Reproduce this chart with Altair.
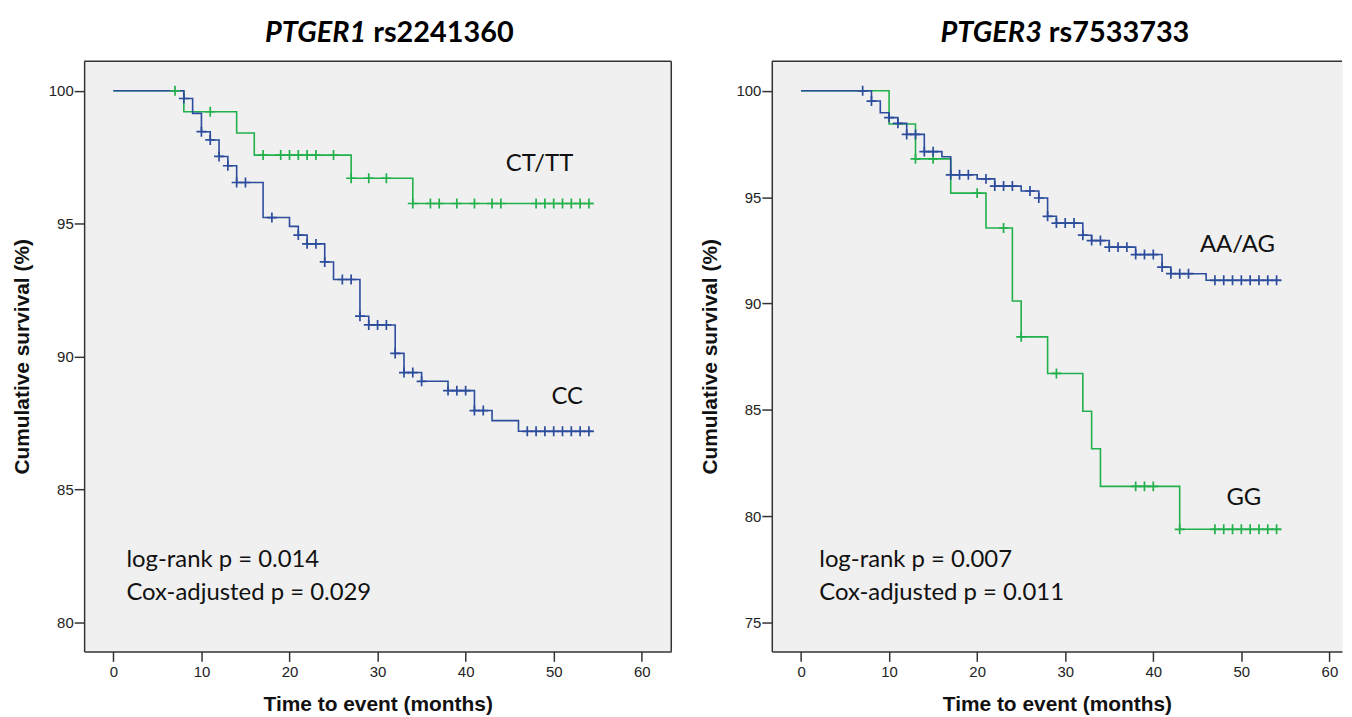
import altair as alt
import pandas as pd

# ---------------- text ----------------
TITLE_A = ["PTGER1", "rs2241360"]
TITLE_B = ["PTGER3", "rs7533733"]
X_LABEL = "Time to event (months)"
Y_LABEL = "Cumulative survival (%)"
X_TICKS = [0, 10, 20, 30, 40, 50, 60]
Y_TICKS_A = [80, 85, 90, 95, 100]
Y_TICKS_B = [75, 80, 85, 90, 95, 100]

# ---------------- panel A: PTGER1 rs2241360 ----------------
A_CT_T = [0, 8, 14, 16, 27, 34, 54.5]
A_CT_S = [100, 99.21, 98.41, 97.58, 96.71, 95.76, 95.76]
A_CT_CENS = [7, 11, 17, 19, 20, 21, 22, 23, 25, 27, 29, 31, 34, 36, 37, 39, 41,
             43, 44, 48, 49, 50, 51, 52, 53, 54]

A_CC_T = [0, 8, 9, 10, 11, 12, 13, 14, 17, 20, 21, 22, 24, 25, 28, 29, 32, 33,
          35, 38, 41, 43, 46, 54.5]
A_CC_S = [100, 99.71, 99.15, 98.46, 98.15, 97.53, 97.18, 96.55, 95.23, 94.90,
          94.57, 94.24, 93.56, 92.90, 91.52, 91.19, 90.12, 89.40, 89.07, 88.72,
          87.97, 87.59, 87.19, 87.19]
A_CC_CENS = [8, 10, 11, 12, 13, 14, 15, 18, 21, 22, 23, 24, 26, 27, 28, 29, 30,
             31, 32, 33, 34, 35, 38, 39, 40, 41, 42, 47, 48, 49, 50, 51, 52, 53, 54]

A_NOTE_TEXT = ["log-rank p = 0.014", "Cox-adjusted p = 0.029", "CT/TT", "CC"]
A_NOTE_T = [1.48, 1.48, 44.55, 49.75]
A_NOTE_S = [82.09, 80.86, 97.00, 88.23]

# ---------------- panel B: PTGER3 rs7533733 ----------------
B_GG_T = [0, 10, 13, 17, 21, 24, 25, 28, 32, 33, 34, 43, 54.5]
B_GG_S = [100, 98.44, 96.80, 95.19, 93.55, 90.12, 88.43, 86.71, 84.93, 83.17,
          81.40, 79.38, 79.38]
B_GG_CENS = [13, 15, 20, 23, 25, 29, 38, 39, 40, 43, 47, 48, 49, 50, 51, 52, 53, 54]

B_AA_T = [0, 8, 9, 10, 11, 12, 14, 16, 17, 20, 22, 25, 27, 28, 29, 32, 33, 35,
          38, 41, 42, 46, 54.5]
B_AA_S = [100, 99.52, 98.97, 98.74, 98.47, 97.95, 97.14, 96.90, 96.05, 95.86,
          95.52, 95.29, 94.96, 94.10, 93.78, 93.21, 92.96, 92.65, 92.30, 91.71,
          91.40, 91.09, 91.09]
B_AA_CENS = [7, 8, 10, 11, 12, 13, 14, 15, 17, 18, 19, 21, 22, 23, 24, 26, 27,
             28, 29, 30, 31, 32, 33, 34, 35, 36, 37, 38, 39, 40, 41, 42, 43, 44,
             47, 48, 49, 50, 51, 52, 53, 54]

B_NOTE_TEXT = ["log-rank p = 0.007", "Cox-adjusted p = 0.011", "AA/AG", "GG"]
B_NOTE_T = [2.07, 2.07, 45.3, 48.3]
B_NOTE_S = [77.62, 76.08, 92.40, 80.51]

# ---------------- styling ----------------
GREEN = "#21b04b"
BLUE = "#2c4c9c"
FRAME = "#333333"
BG = "#f0f0f0"
H = 593
W_A, W_B = 590, 573
XDOM_A = [-3.32, 63.35]
XDOM_B = [-3.32, 61.43]
YDOM_A = [78.91, 101.11]
YDOM_B = [73.64, 101.39]
PLUS = "M-1,0H1M0,-1V1"


def steps_frame(series):
    rows = []
    for g, ts, ss in series:
        for t, s in zip(ts, ss):
            rows.append({"t": t, "s": s, "g": g})
    return pd.DataFrame(rows)


def cens_frame(series):
    rows = []
    for g, ts, ss, cs in series:
        for c in cs:
            val = ss[0]
            for t, s in zip(ts, ss):
                if t <= c:
                    val = s
            rows.append({"t": c, "s": val, "g": g})
    return pd.DataFrame(rows)


def panel(title, split, steps, cens, notes, xdom, ydom, yticks, width, right_edge):
    xax = alt.Axis(values=X_TICKS, title=X_LABEL, grid=False, domain=True,
                   domainColor=FRAME, domainWidth=1.5, titleY=53,
                   titleBaseline="middle", labelPadding=3, labelFlush=False)
    yax = alt.Axis(values=yticks, title=Y_LABEL, grid=False, domain=True,
                   domainColor=FRAME, domainWidth=1.5, titleX=-62, titleY=H / 2,
                   titleAngle=270, titleBaseline="middle", titleAlign="center",
                   labelPadding=1)
    x = alt.X("t:Q", scale=alt.Scale(domain=xdom, nice=False, zero=False), axis=xax)
    y = alt.Y("s:Q", scale=alt.Scale(domain=ydom, nice=False, zero=False), axis=yax)
    color = alt.Color("g:N", scale=alt.Scale(domain=["green", "blue"],
                                             range=[GREEN, BLUE]), legend=None)

    lines = alt.Chart(steps).mark_line(interpolate="step-after", strokeWidth=1.6).encode(
        x=x, y=y, color=color)
    marks = alt.Chart(cens).mark_point(shape=PLUS, filled=False, size=100,
                                       strokeWidth=1.7, opacity=1).encode(
        x=x, y=y, color=color)
    note_df = pd.DataFrame({"t": notes[1], "s": notes[2], "txt": notes[0]})
    texts = alt.Chart(note_df).mark_text(font="Lato", fontSize=24, align="left",
                                         baseline="alphabetic", color="#111111").encode(
        x=x, y=y, text="txt:N")
    t1 = alt.Chart(pd.DataFrame({"txt": [title[0]]})).mark_text(
        font="Lato", fontSize=29, fontWeight="bold", fontStyle="italic",
        align="right", baseline="alphabetic", dx=-3, color="#000000").encode(
        x=alt.value(split), y=alt.value(-19), text="txt:N")
    t2 = alt.Chart(pd.DataFrame({"txt": [title[1]]})).mark_text(
        font="Lato", fontSize=29, fontWeight="bold",
        align="left", baseline="alphabetic", dx=4, color="#000000").encode(
        x=alt.value(split), y=alt.value(-19), text="txt:N")
    top = alt.Chart(pd.DataFrame({"k": [0]})).mark_rule(
        color=FRAME, strokeWidth=1.5).encode(
        x=alt.value(0), x2=alt.value(width), y=alt.value(0))
    layers = [lines, marks, texts, t1, t2, top]
    if right_edge:
        rgt = alt.Chart(pd.DataFrame({"k": [0]})).mark_rule(
            color=FRAME, strokeWidth=1.5).encode(
            x=alt.value(width), y=alt.value(0), y2=alt.value(H))
        layers.append(rgt)
    return alt.layer(*layers).properties(width=width, height=H)


left = panel(TITLE_A, 286.5,
             steps_frame([("green", A_CT_T, A_CT_S), ("blue", A_CC_T, A_CC_S)]),
             cens_frame([("green", A_CT_T, A_CT_S, A_CT_CENS),
                         ("blue", A_CC_T, A_CC_S, A_CC_CENS)]),
             (A_NOTE_TEXT, A_NOTE_T, A_NOTE_S), XDOM_A, YDOM_A, Y_TICKS_A, W_A, True)

right = panel(TITLE_B, 274.4,
              steps_frame([("green", B_GG_T, B_GG_S), ("blue", B_AA_T, B_AA_S)]),
              cens_frame([("green", B_GG_T, B_GG_S, B_GG_CENS),
                          ("blue", B_AA_T, B_AA_S, B_AA_CENS)]),
              (B_NOTE_TEXT, B_NOTE_T, B_NOTE_S), XDOM_B, YDOM_B, Y_TICKS_B, W_B, False)

chart = alt.hconcat(left, right, spacing=25).properties(
    padding={"top": 8.8, "left": 2.5, "right": 0, "bottom": 0},
    background="white",
).configure_view(
    fill=BG, stroke="transparent",
).configure_axis(
    labelFont="Liberation Sans", labelFontSize=15, labelColor="#222222",
    tickColor=FRAME, tickSize=10, tickWidth=1.5,
    titleFont="Liberation Sans", titleFontSize=21, titleFontWeight="bold",
    titleColor="#111111", labelOverlap=False,
)

chart.save("out.html", embed_options={"renderer": "svg", "actions": False})
